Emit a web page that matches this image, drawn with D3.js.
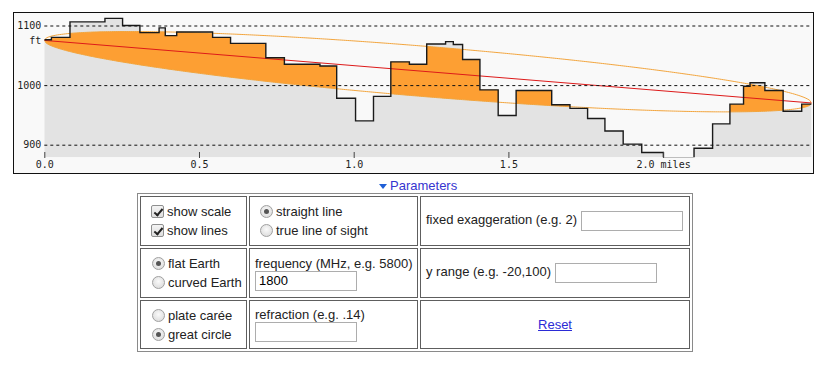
<!DOCTYPE html>
<html><head><meta charset="utf-8">
<script src="https://cdn.jsdelivr.net/npm/d3@7"></script>
<style>
html,body{margin:0;padding:0;background:#fff;width:825px;height:366px;overflow:hidden;
  font-family:"Liberation Sans",Arial,sans-serif;font-size:13px;color:#222;}
#chart{position:absolute;left:0;top:0;}
#ptoggle{position:absolute;left:379px;top:178px;color:#3535cf;font-size:13px;line-height:15px;white-space:nowrap;}
#ptoggle .tri{display:inline-block;width:0;height:0;border-left:4.5px solid transparent;border-right:4.5px solid transparent;border-top:5.5px solid #1f5fd6;margin-right:3px;vertical-align:1px;}
#params{position:absolute;left:137px;top:193px;border:1px solid #8a8a8a;border-spacing:2px;border-collapse:separate;}
#params td{border:1px solid #5e5e5e;box-sizing:border-box;vertical-align:middle;padding:0 0 0 4px;line-height:15px;white-space:nowrap;}
#params td.c1{width:107px;padding-left:6px;}
#params td.c2{width:169px;padding-left:5px;}
#params td.c3{width:270px;padding-left:5px;}
#params tr.r1 td,#params tr.r2 td{height:50px;}
#params tr.r3 td{height:49px;}
.ln{display:block;height:19px;line-height:19px;}
input[type=checkbox],input[type=radio]{-webkit-appearance:none;appearance:none;width:13px;height:13px;margin:0 3px 0 4px;vertical-align:-2px;box-sizing:border-box;border:1px solid #8e8f8f;background:linear-gradient(#f4f4f4,#dedede);position:relative;}
input[type=radio]{border-radius:50%;margin-left:5px;border-color:#a0a0a0;background:radial-gradient(circle at 50% 40%,#fafafa,#d6d6d6);}
input[type=radio]:checked::after{content:"";position:absolute;left:3px;top:3px;width:5px;height:5px;border-radius:50%;background:#555;}
input[type=checkbox]{border-radius:2px;}
input[type=checkbox]:checked::after{content:"";position:absolute;left:3.5px;top:0.5px;width:3px;height:7px;border:solid #222;border-width:0 2px 2px 0;transform:rotate(40deg);}
input[type=text]{width:102px;height:20px;box-sizing:border-box;border:1px solid #adadad;padding:1px 3px;font-family:"Liberation Sans",Arial,sans-serif;font-size:13px;margin:0;vertical-align:middle;}
a.reset{color:#2b2bd6;text-decoration:underline;}
</style></head><body>
<svg id="chart" width="825" height="178"></svg>
<div id="ptoggle"><span class="tri"></span>Parameters</div>
<table id="params">
<tr class="r1">
 <td class="c1"><span class="ln"><input type="checkbox" checked>show scale</span><span class="ln"><input type="checkbox" checked>show lines</span></td>
 <td class="c2"><span class="ln"><input type="radio" name="ln" checked>straight line</span><span class="ln"><input type="radio" name="ln">true line of sight</span></td>
 <td class="c3">fixed exaggeration (e.g. 2) <input type="text" value=""></td>
</tr>
<tr class="r2">
 <td class="c1"><span class="ln"><input type="radio" name="ea" checked>flat Earth</span><span class="ln"><input type="radio" name="ea">curved Earth</span></td>
 <td class="c2">frequency (MHz, e.g. 5800)<br><input type="text" value="1800"></td>
 <td class="c3">y range (e.g. -20,100) <input type="text" value=""></td>
</tr>
<tr class="r3">
 <td class="c1"><span class="ln"><input type="radio" name="pr">plate carée</span><span class="ln"><input type="radio" name="pr" checked>great circle</span></td>
 <td class="c2">refraction (e.g. .14)<br><input type="text" value=""></td>
 <td class="c3" style="text-align:center;padding-left:0;"><a class="reset" href="#">Reset</a></td>
</tr>
</table>
<script>
// ---- data ----
const stepMiles  = [0.000,0.023,0.083,0.196,0.253,0.309,0.371,0.391,0.428,0.544,0.602,0.716,0.776,0.891,0.945,1.006,1.064,1.120,1.180,1.236,1.297,1.322,1.352,1.408,1.467,1.525,1.640,1.699,1.756,1.812,1.871,1.931,2.001,2.100,2.160,2.216,2.260,2.281,2.329,2.388,2.448,2.480];
const stepElevFt = [1076,1080,1106,1112,1100,1088,1096,1083,1089,1080,1070,1046,1035,1032,978,940,981,1039,1035,1069,1073,1068,1043,992,949,991,967,961,944,923,901,887,878,894,935,968,998,1004,991,956,968,968];
const pathLengthMiles = 2.480;
const txHeightFt = 1075;
const rxHeightFt = 970;
const frequencyMHz = 1800;
const yGridValues = [900, 1000, 1100];
const yGridLabels = ["900", "1000", "1100"];
const yUnitLabel = "ft";
const xTickValues = [0, 0.5, 1.0, 1.5, 2.0];
const xTickLabels = ["0.0", "0.5", "1.0", "1.5", "2.0 miles"];

// ---- layout ----
const svg = d3.select("#chart");
const frame = {x:13.5, y:12.5, w:800, h:161};
const plot = {left:44.3, right:811.6, top:13, bottom:157.3};
const x = d3.scaleLinear().domain([0, pathLengthMiles]).range([plot.left, plot.right]);
const y = d3.scaleLinear().domain([900, 1100]).range([144.7, 25.5]);

svg.append("rect").attr("x",frame.x).attr("y",frame.y).attr("width",frame.w).attr("height",frame.h)
   .attr("fill","#f9f9f9").attr("stroke","#111").attr("stroke-width",1);

const defs = svg.append("defs");
defs.append("clipPath").attr("id","plotclip").append("rect")
   .attr("x",plot.left).attr("y",plot.top).attr("width",plot.right-plot.left).attr("height",plot.bottom-plot.top);

const terrain = stepMiles.map((m,i)=>({m, e:stepElevFt[i]}));
const terrainArea = d3.area().curve(d3.curveStepAfter)
   .x(d=>x(d.m)).y0(plot.bottom).y1(d=>y(d.e));
const terrainLine = d3.line().curve(d3.curveStepAfter).x(d=>x(d.m)).y(d=>y(d.e));

defs.append("clipPath").attr("id","terrclip").append("path").attr("d", terrainArea(terrain));

const g = svg.append("g").attr("clip-path","url(#plotclip)");
g.append("path").attr("d", terrainArea(terrain)).attr("fill","#e3e3e3");

// first Fresnel zone around the straight line of sight
const lambda = 299.792458 / frequencyMHz; // metres
const Dm = pathLengthMiles * 1609.344;
const los = m => txHeightFt + (rxHeightFt - txHeightFt) * m / pathLengthMiles;
const fres = m => { const d1 = m*1609.344, d2 = Dm - d1; return Math.sqrt(Math.max(0, lambda*d1*d2/Dm)) * 3.28084; };
const samples = d3.range(0, 401).map(i => pathLengthMiles * i / 400);
const zone = samples.map(m => ({m, lo: los(m) - fres(m), hi: los(m) + fres(m)}));
const zoneArea = d3.area().x(d=>x(d.m)).y0(d=>y(d.lo)).y1(d=>y(d.hi));

g.append("g").attr("clip-path","url(#terrclip)")
 .append("path").attr("d", zoneArea(zone)).attr("fill","#fd9f33");

g.append("path").attr("d", d3.line().x(d=>x(d.m)).y(d=>y(d.hi))(zone))
 .attr("fill","none").attr("stroke","#f2a43c").attr("stroke-width",1);
g.append("path").attr("d", d3.line().x(d=>x(d.m)).y(d=>y(d.lo))(zone))
 .attr("fill","none").attr("stroke","#f2a43c").attr("stroke-width",1);

// grid + y labels
const yAxis = d3.axisLeft(y).tickValues(yGridValues).tickFormat((d,i)=>yGridLabels[i])
   .tickSizeInner(-(plot.right-plot.left)).tickSizeOuter(0).tickPadding(3);
const ya = svg.append("g").attr("transform",`translate(${plot.left},0)`).call(yAxis);
ya.select(".domain").remove();
ya.selectAll(".tick line").attr("stroke","#111").attr("stroke-dasharray","3,3");
ya.selectAll(".tick text").attr("font-family","'DejaVu Sans Mono',monospace").attr("font-size",10).attr("fill","#222");
svg.append("text").attr("x",plot.left-3).attr("y",y(txHeightFt)).attr("dy","0.32em")
   .attr("text-anchor","end").attr("font-family","'DejaVu Sans Mono',monospace").attr("font-size",10).attr("fill","#222")
   .text(yUnitLabel);

// line of sight
g.append("line").attr("x1",x(0)).attr("y1",y(txHeightFt)).attr("x2",x(pathLengthMiles)).attr("y2",y(rxHeightFt))
 .attr("stroke","#dd1a1a").attr("stroke-width",1);

// terrain outline
g.append("path").attr("d", terrainLine(terrain)).attr("fill","none").attr("stroke","#1a1a1a").attr("stroke-width",1.4);

// x axis
const xAxis = d3.axisBottom(x).tickValues(xTickValues).tickFormat((d,i)=>xTickLabels[i]).tickSizeInner(6).tickSizeOuter(0).tickPadding(3);
const xa = svg.append("g").attr("transform","translate(0,152)").call(xAxis);
xa.select(".domain").remove();
xa.selectAll(".tick line").attr("stroke","#444");
xa.selectAll(".tick text").attr("font-family","'DejaVu Sans Mono',monospace").attr("font-size",10).attr("fill","#222");
</script>
</body></html>
